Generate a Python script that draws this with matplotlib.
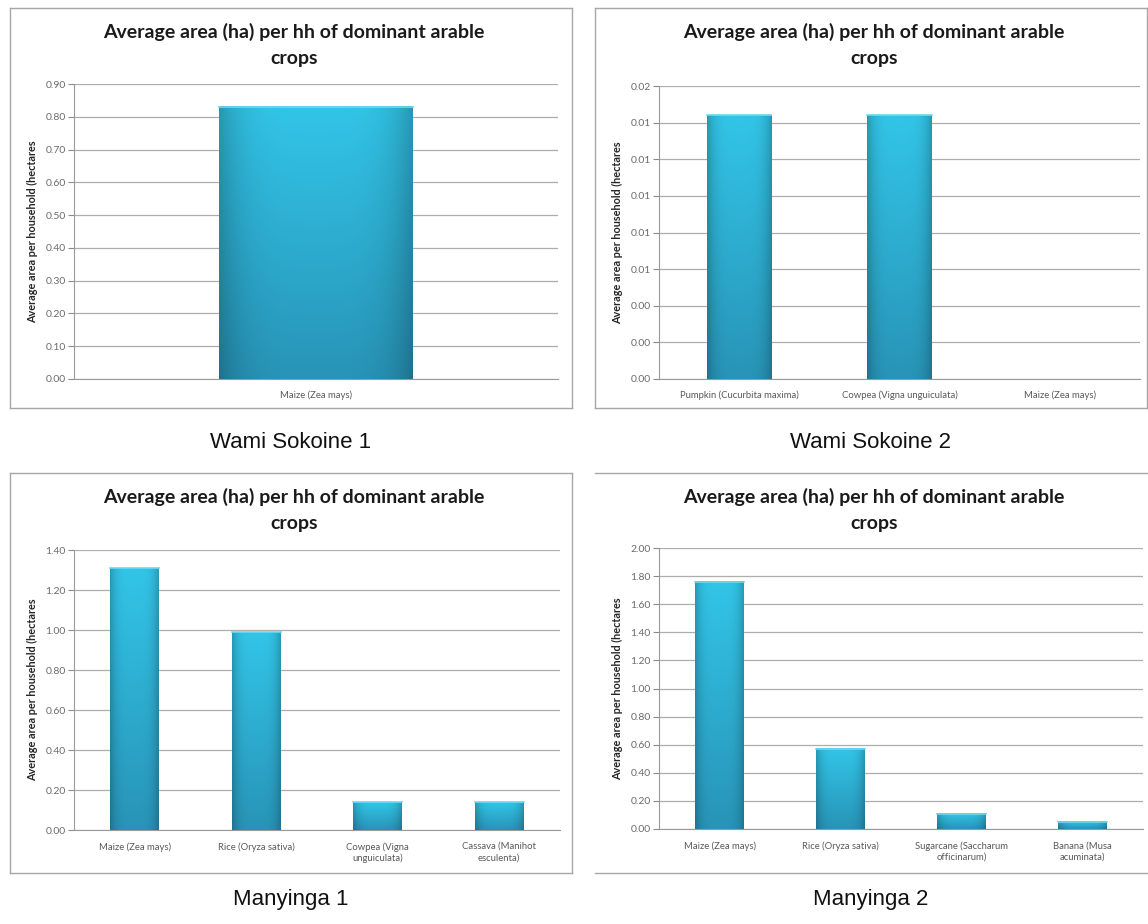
import numpy as np
import matplotlib
matplotlib.use("Agg")
from matplotlib import pyplot as plt
from matplotlib.ticker import FormatStrFormatter

plt.rcParams['font.family'] = ['Lato', 'DejaVu Sans']

W, H = 1148, 924

TITLE = "Average area (ha) per hh of dominant arable\ncrops"
YLABEL = "Average area per household (hectares"

# Wami Sokoine 1
ws1_crops = ["Maize (Zea mays)"]
ws1_area = [0.83]
ws1_ticks = np.arange(0, 0.91, 0.1)

# Wami Sokoine 2
ws2_crops = ["Pumpkin (Cucurbita maxima)", "Cowpea (Vigna unguiculata)", "Maize (Zea mays)"]
ws2_area = [0.0144, 0.0144, 0.0]
ws2_ticks = np.arange(0, 0.0161, 0.002)

# Manyinga 1
my1_crops = ["Maize (Zea mays)", "Rice (Oryza sativa)", "Cowpea (Vigna\nunguiculata)", "Cassava (Manihot\nesculenta)"]
my1_area = [1.31, 0.99, 0.14, 0.14]
my1_ticks = np.arange(0, 1.41, 0.2)

# Manyinga 2
my2_crops = ["Maize (Zea mays)", "Rice (Oryza sativa)", "Sugarcane (Saccharum\nofficinarum)", "Banana (Musa\nacuminata)"]
my2_area = [1.76, 0.57, 0.11, 0.05]
my2_ticks = np.arange(0, 2.01, 0.2)

site_names = ["Wami Sokoine 1", "Wami Sokoine 2", "Manyinga 1", "Manyinga 2"]


def px_axes(fig, left, top, right, bottom):
    return fig.add_axes([left / W, 1 - bottom / H, (right - left) / W, (bottom - top) / H])


def bar_shading(n=80, m=60):
    # vertical cyan gradient, a bit darker towards the bar sides
    t = np.linspace(0, 1, n)[:, None]
    u = np.linspace(0, 1, m)[None, :]
    top = np.array([50, 197, 232]) / 255
    bottom = np.array([40, 148, 183]) / 255
    col = bottom * (1 - t[..., None]) + top * t[..., None]
    side = 1 - 0.22 * np.abs(2 * u - 1) ** 4
    img = col * side[..., None]
    return np.clip(img, 0, 1)


def draw_chart(ax, crops, area, ticks, fmt, xlabel_y):
    x = np.arange(len(crops))
    bars = ax.bar(x, area, width=0.4, color="#33b2d6", zorder=2)
    shade = bar_shading()
    for b in bars:
        h = b.get_height()
        if h <= 0:
            continue
        x0 = b.get_x()
        ax.imshow(shade, extent=[x0, x0 + b.get_width(), 0, h], origin="lower",
                  aspect="auto", interpolation="bilinear", zorder=3)
        # light rim along the top edge
        ax.plot([x0, x0 + b.get_width()], [h, h], color="#6fd8f0", lw=1.2, zorder=4)

    ax.set_xlim(-0.5, len(crops) - 0.5)
    ax.set_ylim(0, ticks[-1])
    ax.set_yticks(ticks)
    ax.yaxis.set_major_formatter(FormatStrFormatter(fmt))
    ax.set_xticks(x)
    ax.set_xticklabels([])
    for xi, name in zip(x, crops):
        ax.text(xi, xlabel_y, name, transform=ax.get_xaxis_transform(), ha="center", va="top",
                fontsize=6.8, color="#595959", linespacing=1.3)
    ax.tick_params(axis="y", labelsize=7.5, colors="#8a8a8a", labelcolor="#6b6b6b",
                   length=4, width=0.8, pad=2)
    ax.tick_params(axis="x", length=0)
    ax.grid(axis="y", color="#adadad", lw=0.9, zorder=0)
    ax.set_axisbelow(True)
    for s in ["top", "right"]:
        ax.spines[s].set_visible(False)
    ax.spines["left"].set_color("#9a9a9a")
    ax.spines["bottom"].set_color("#9a9a9a")
    ax.patch.set_alpha(0)


fig = plt.figure(figsize=(W / 100, H / 100), dpi=100)

# chart frames: (left, top, right, bottom, which sides)
frames = [
    (10, 8, 572, 408, "lrtb"),
    (595, 8, 1147, 408, "lrtb"),
    (10, 473, 572, 873, "lrtb"),
    (595, 473, 1147, 873, "tb"),
]
frame_ax = fig.add_axes([0, 0, 1, 1])
frame_ax.set_xlim(0, W)
frame_ax.set_ylim(H, 0)
frame_ax.axis("off")
for l, t, r, b, sides in frames:
    if "t" in sides:
        frame_ax.plot([l, r], [t, t], color="#a6a6a6", lw=1)
    if "b" in sides:
        frame_ax.plot([l, r], [b, b], color="#a6a6a6", lw=1)
    if "l" in sides:
        frame_ax.plot([l, l], [t, b], color="#a6a6a6", lw=1)
    if "r" in sides:
        frame_ax.plot([r, r], [t, b], color="#a6a6a6", lw=1)

panels = [
    ((74, 84, 558, 379), ws1_crops, ws1_area, ws1_ticks, "%.2f", -0.04),
    ((659, 86, 1140, 379), ws2_crops, ws2_area, ws2_ticks, "%.2f", -0.04),
    ((74, 550, 560, 830), my1_crops, my1_area, my1_ticks, "%.2f", -0.043),
    ((659, 548, 1143, 829), my2_crops, my2_area, my2_ticks, "%.2f", -0.043),
]

for (box, crops, area, ticks, fmt, ly), (l, t, r, b, _), name in zip(panels, frames, site_names):
    ax = px_axes(fig, *box)
    draw_chart(ax, crops, area, ticks, fmt, ly)
    cx = (l + r) / 2
    frame_ax.text(cx + 3, t + 37, TITLE, ha="center", va="center", fontsize=14,
                  fontweight="bold", color="#1a1a1a", linespacing=1.6)
    frame_ax.text(box[0] - 41, (box[1] + box[3]) / 2, YLABEL, rotation=90, ha="center",
                  va="center", fontsize=7.8, fontweight="bold", color="#262626")
    frame_ax.text(cx, b + 35 if t < 400 else b + 27, name, ha="center", va="center",
                  fontsize=16, family=["Liberation Sans", "DejaVu Sans"], color="#111111")

fig.savefig("out.png", dpi=100)
